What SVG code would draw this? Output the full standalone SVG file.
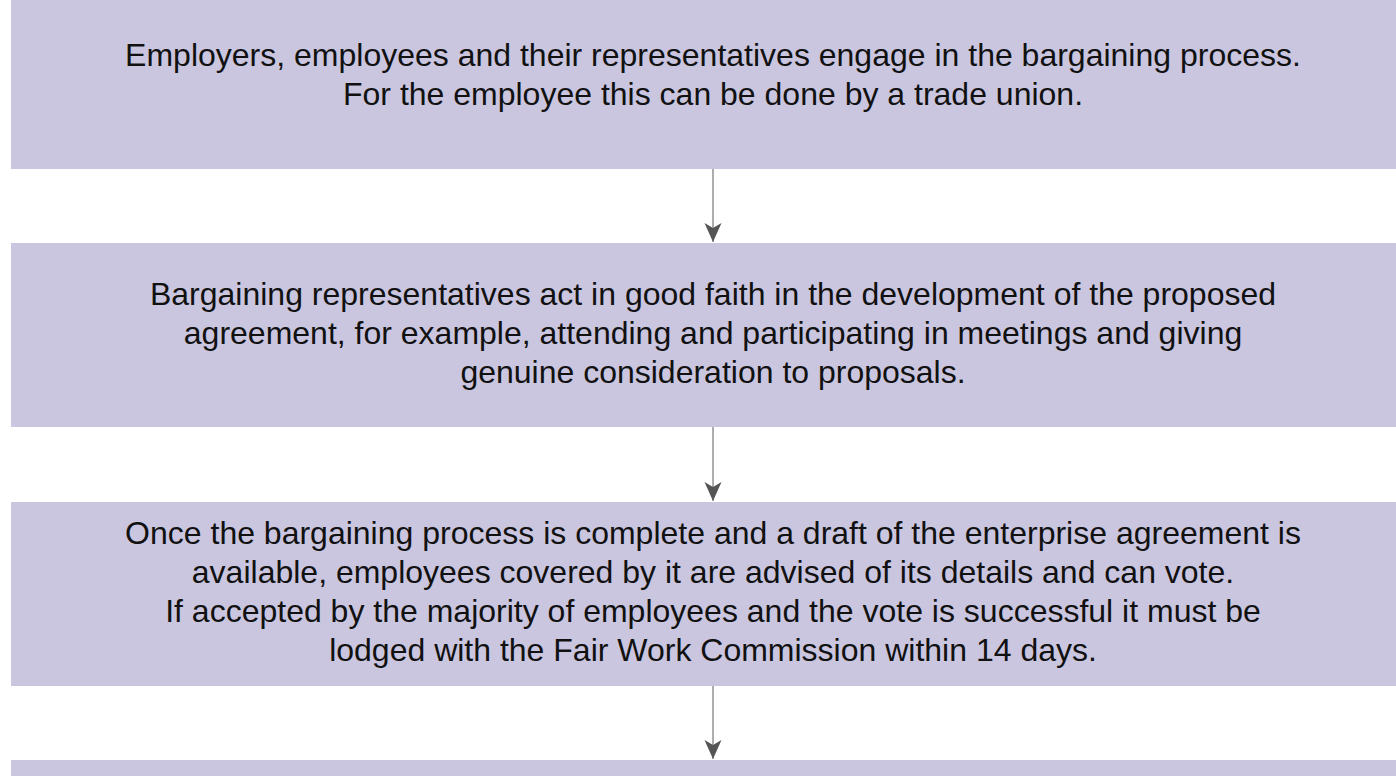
<svg xmlns="http://www.w3.org/2000/svg" width="1396" height="776" viewBox="0 0 1396 776">
<style>
.box{fill:#CAC6E0;}
.t{font-family:"Liberation Sans",Arial,Helvetica,sans-serif;font-size:32px;fill:#111;text-anchor:middle;}
.c{stroke:#999;stroke-width:1.6;fill:none;}
</style>
<defs>
<marker id="ah" markerUnits="userSpaceOnUse" viewBox="0 0 20 18" markerWidth="20" markerHeight="18" refX="19" refY="9" orient="auto">
<path d="M0,0.5 L19,9 L0,17.5 L5,9 Z" fill="#555"/>
</marker>
</defs>
<rect width="1396" height="776" fill="#fff"/>
<g id="node1">
<rect class="box" x="11" y="-15" width="1405" height="184"/>
<text class="t" x="713" y="66">Employers, employees and their representatives engage in the bargaining process.</text>
<text class="t" x="713" y="105">For the employee this can be done by a trade union.</text>
</g>
<g id="node2">
<rect class="box" x="11" y="243" width="1405" height="184"/>
<text class="t" x="713" y="305">Bargaining representatives act in good faith in the development of the proposed</text>
<text class="t" x="713" y="344">agreement, for example, attending and participating in meetings and giving</text>
<text class="t" x="713" y="383">genuine consideration to proposals.</text>
</g>
<g id="node3">
<rect class="box" x="11" y="502" width="1405" height="184"/>
<text class="t" x="713" y="544">Once the bargaining process is complete and a draft of the enterprise agreement is</text>
<text class="t" x="713" y="583">available, employees covered by it are advised of its details and can vote.</text>
<text class="t" x="713" y="622">If accepted by the majority of employees and the vote is successful it must be</text>
<text class="t" x="713" y="661">lodged with the Fair Work Commission within 14 days.</text>
</g>
<g id="node4">
<rect class="box" x="11" y="760" width="1405" height="184"/>
</g>
<g id="connectors">
<line class="c" x1="713" y1="169" x2="713" y2="242" marker-end="url(#ah)"/>
<line class="c" x1="713" y1="427" x2="713" y2="501" marker-end="url(#ah)"/>
<line class="c" x1="713" y1="686" x2="713" y2="759" marker-end="url(#ah)"/>
</g>
</svg>
